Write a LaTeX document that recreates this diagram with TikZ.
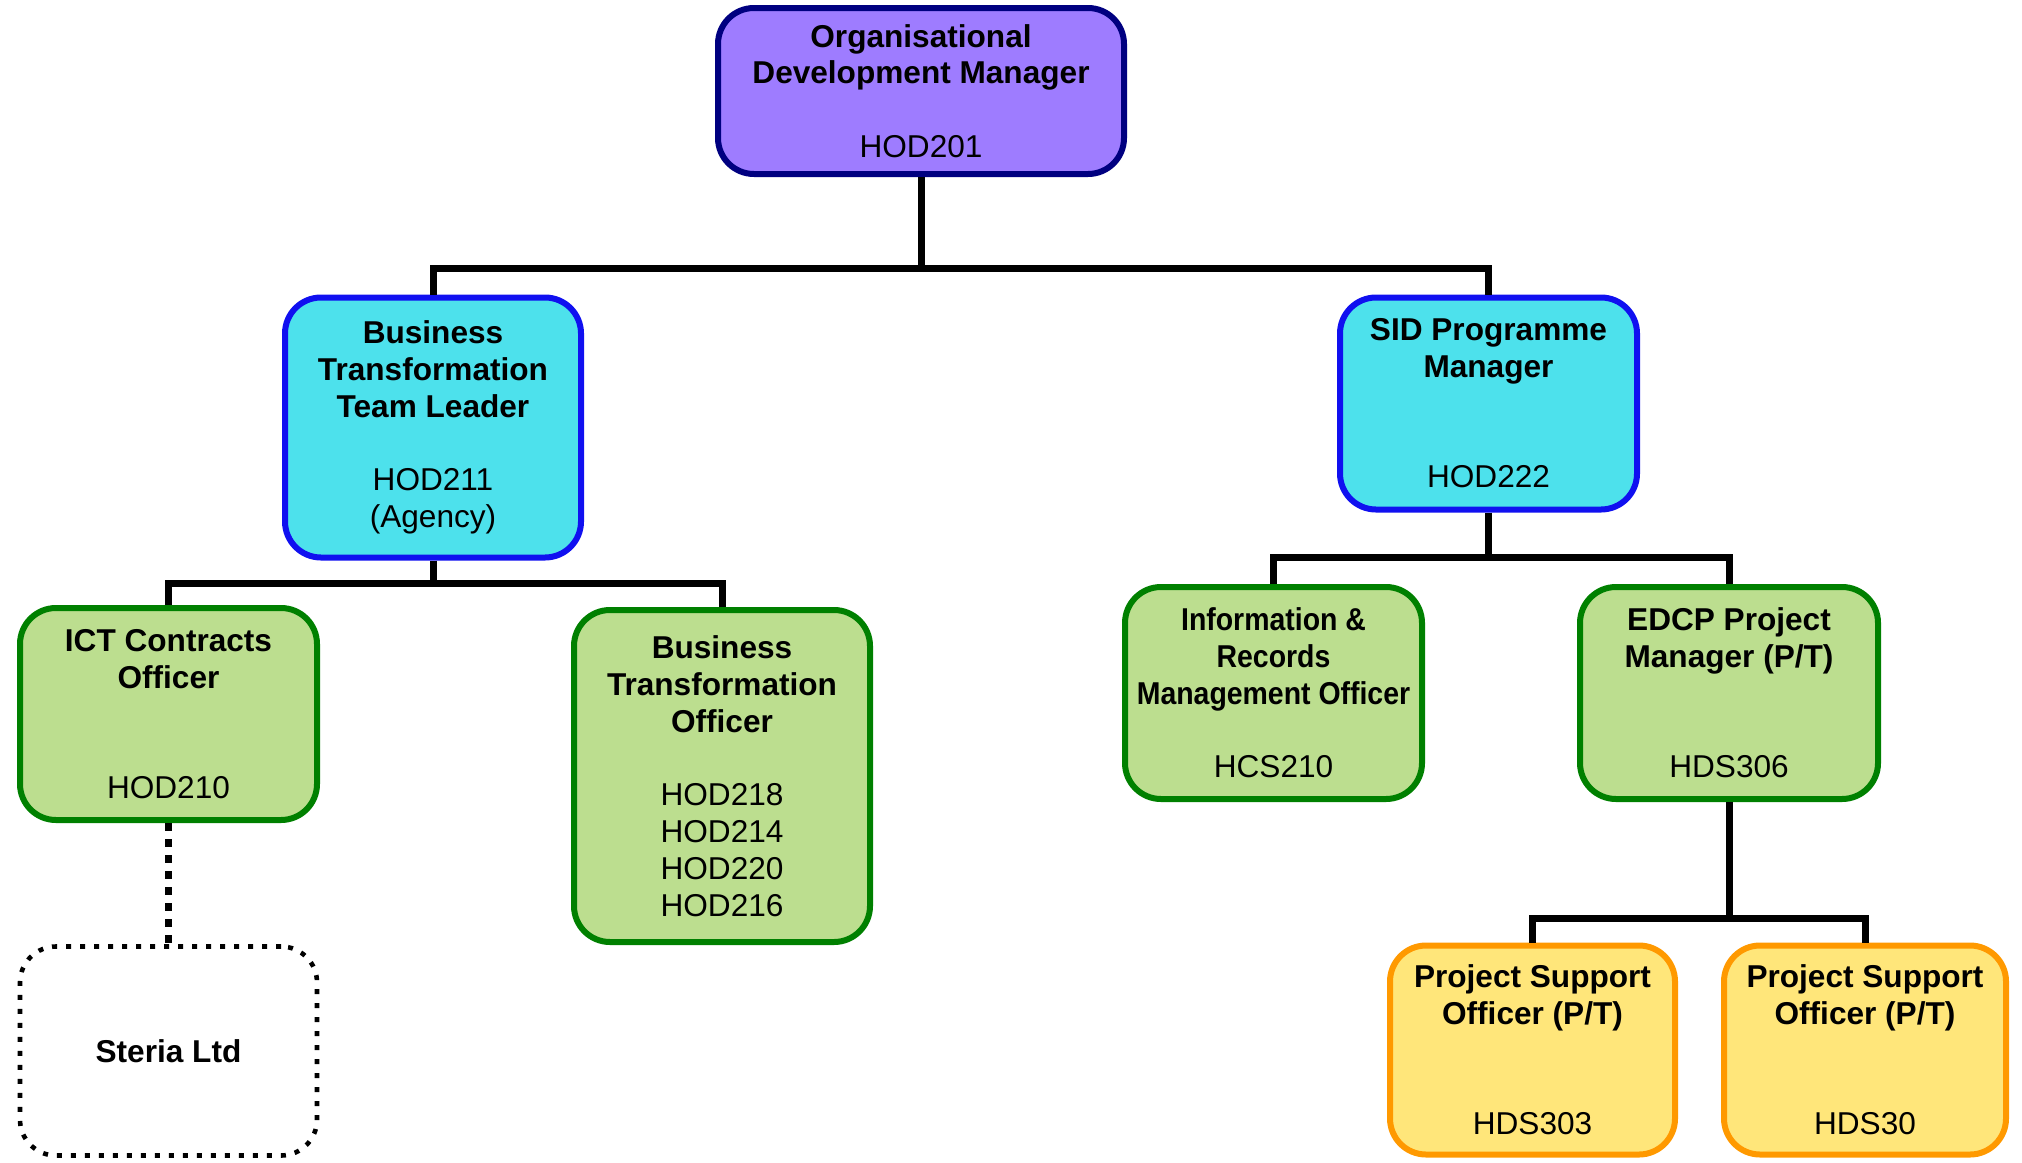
\documentclass[tikz,border=0pt]{standalone}
\usepackage{fontspec}
\setmainfont{Liberation Sans}
\usepackage{graphicx}
\definecolor{odfill}{RGB}{158,124,255}
\definecolor{oddraw}{RGB}{0,0,128}
\definecolor{tlfill}{RGB}{77,225,236}
\definecolor{tldraw}{RGB}{16,16,240}
\definecolor{offill}{RGB}{188,222,143}
\definecolor{ofdraw}{RGB}{0,128,0}
\definecolor{psfill}{RGB}{255,230,122}
\definecolor{psdraw}{RGB}{255,153,0}
\begin{document}
\begin{tikzpicture}[x=0.5pt, y=-0.5pt, font=\fontsize{15.8}{18.4}\selectfont,
    post/.style={draw, line width=3pt, rounded corners=18pt, align=center, inner sep=0pt, minimum width=148.5pt},
    head/.style={post, fill=odfill, draw=oddraw},
    lead/.style={post, fill=tlfill, draw=tldraw},
    officer/.style={post, fill=offill, draw=ofdraw},
    support/.style={post, fill=psfill, draw=psdraw},
    extern/.style={post, line width=2.3pt, dash pattern=on 2.5pt off 4.5pt},
    conn/.style={line width=3.5pt}]
    \useasboundingbox (0,0) rectangle (2022,1162);
    % junctions of the tree
    \coordinate (j1) at (921,268);
    \coordinate (j2) at (433,583);
    \coordinate (j3) at (1488.5,557);
    \coordinate (j4) at (1729,918);
    % posts
    \node[head, minimum width=203pt, minimum height=83pt] (odm) at (921,91) {\textbf{Organisational}\\\textbf{Development Manager}\\[18.4pt]HOD201};
    \node[lead, minimum width=148pt, minimum height=130pt] (bttl) at (433,427.5) {\textbf{Business}\\\textbf{Transformation}\\\textbf{Team Leader}\\[18.4pt]HOD211\\(Agency)};
    \node[lead, minimum height=106pt] (sid) at (1488.5,403.5) {\textbf{SID Programme}\\\textbf{Manager}\\[36.8pt]HOD222};
    \node[officer, minimum height=106pt] (ict) at (168.5,714) {\textbf{ICT Contracts}\\\textbf{Officer}\\[36.8pt]HOD210};
    \node[officer, minimum width=148pt, minimum height=166pt] (bto) at (722,776) {\textbf{Business}\\\textbf{Transformation}\\\textbf{Officer}\\[18.4pt]HOD218\\HOD214\\HOD220\\HOD216};
    \node[extern, minimum height=104.5pt] (steria) at (168.5,1051) {\textbf{Steria Ltd}};
    \node[officer, minimum height=106pt] (irm) at (1273.5,693) {\scalebox{0.9}[1]{\textbf{Information \&}}\\\scalebox{0.9}[1]{\textbf{Records}}\\\scalebox{0.9}[1]{\textbf{Management Officer}}\\[18.4pt]HCS210};
    \node[officer, minimum width=149pt, minimum height=106pt] (edcp) at (1729,693) {\textbf{EDCP Project}\\\textbf{Manager (P/T)}\\[36.8pt]HDS306};
    \node[support, minimum width=142.5pt, minimum height=104.5pt] (pso1) at (1532.5,1050) {\textbf{Project Support}\\\textbf{Officer (P/T)}\\[36.8pt]HDS303};
    \node[support, minimum width=141pt, minimum height=104.5pt] (pso2) at (1865,1050) {\textbf{Project Support}\\\textbf{Officer (P/T)}\\[36.8pt]HDS30};
    % reporting lines
    \draw[conn] (odm.south) -- (j1);
    \draw[conn] (bttl.north) |- (j1) -| (sid.north);
    \draw[conn] (bttl.south) -- (j2);
    \draw[conn] (ict.north) |- (j2) -| (bto.north);
    \draw[conn] (sid.south) -- (j3);
    \draw[conn] (irm.north) |- (j3) -| (edcp.north);
    \draw[conn] (edcp.south) -- (j4);
    \draw[conn] (pso1.north) |- (j4) -| (pso2.north);
    \draw[line width=3.7pt, dash pattern=on 4pt off 4pt] (ict.south) -- (steria.north);
\end{tikzpicture}
\end{document}
